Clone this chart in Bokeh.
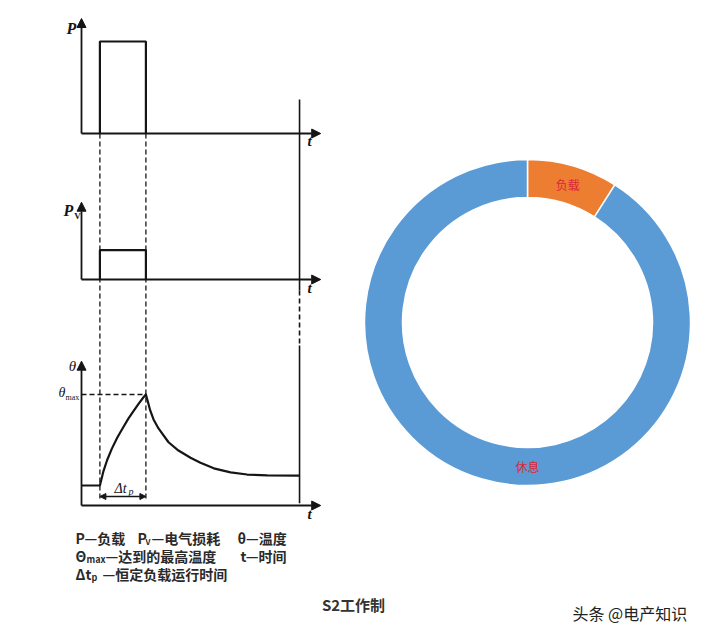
from bokeh.plotting import figure
from bokeh.models import Range1d, Arrow, NormalHead, ColumnDataSource
from bokeh.core.properties import value
from bokeh.embed import file_html
from bokeh.resources import INLINE
import math

W, H = 720, 638

# ---------------- S2 duty-cycle data (arbitrary time units) ----------------
t_on = 2.0          # load switched on
t_off = 7.0         # load switched off (end of Δtp)
t_cycle = 23.7      # end of the observed period
t_axis_end = 26.0   # length of the time axes

p_load = 1.0        # constant load P
pv_loss = 0.32      # electrical losses Pv while loaded

# temperature rise θ over time
theta_t = [0.0, 2.0, 2.39, 2.79, 3.29, 3.88, 4.57, 5.11, 5.65, 6.2, 6.74, 7.0,
           7.23, 7.47, 7.83, 8.37, 9.46, 10.54, 11.85, 12.93, 14.38, 16.2, 18.0, 20.2, 23.7]
theta_v = [18.0, 18.0, 31.0, 41.0, 51.0, 61.0, 71.0, 78.5, 85.0, 91.5, 97.5, 100.0,
           93.0, 85.6, 77.5, 69.4, 57.0, 49.5, 43.0, 38.5, 33.5, 29.8, 27.9, 27.2, 27.0]

# share of the duty cycle
duty_labels = ["负载", "休息"]
duty_share = [9, 91]
duty_colors = ["#ed7d31", "#5b9bd5"]

# ---------------- layout of the schematic ----------------
X0, PX_T = 81.0, 9.2                 # pixel of t=0, pixels per time unit
PANELS = {                            # baseline pixel, pixels per unit, axis height (units)
    "P": (133.0, 92.0, 1.25),
    "Pv": (279.0, 92.0, 0.84),
    "theta": (505.0, 1.11, 130.0),
}
INK = "#151515"


def py(panel, v):
    base, s, _ = PANELS[panel]
    return base - v * s


p = figure(width=W, height=H, x_range=Range1d(0, W), y_range=Range1d(H, 0),
           output_backend="svg", toolbar_location=None, title=None,
           x_axis_location=None, y_axis_location=None, min_border=0,
           outline_line_color=None, background_fill_color="white",
           border_fill_color="white")
p.grid.visible = False

p.extra_x_ranges = {"t": Range1d(-X0 / PX_T, (W - X0) / PX_T)}
p.extra_y_ranges = {name: Range1d(base / s - H / s, base / s)
                    for name, (base, s, _) in PANELS.items()}

# axes with arrow heads
for name, (_, _, top) in PANELS.items():
    for xe, ye in [(0, top), (t_axis_end, 0)]:
        p.add_layout(Arrow(x_start=0, y_start=0, x_end=xe, y_end=ye,
                           x_range_name="t", y_range_name=name,
                           line_color=INK, line_width=1.8,
                           end=NormalHead(size=9, fill_color=INK, line_color=INK, line_width=1)))

# guide lines through the switching instants
for tt in (t_on, t_off):
    p.segment(x0=tt, y0=py("P", 0), x1=tt, y1=py("theta", 4), x_range_name="t",
              line_color=INK, line_width=1.3, line_dash="5 3")

# end of period marker: solid, dashed between the Pv and θ panels, solid again
p.segment(x0=[t_cycle, t_cycle], y0=[py("P", 0.37), 345],
          x1=[t_cycle, t_cycle], y1=[290, py("theta", 2)],
          x_range_name="t", line_color=INK, line_width=1.6)
p.segment(x0=t_cycle, y0=290, x1=t_cycle, y1=345, x_range_name="t",
          line_color=INK, line_width=1.6, line_dash="5 3")

# load P and losses Pv
p.line(x=[t_on, t_on, t_off, t_off], y=[0, p_load, p_load, 0],
       x_range_name="t", y_range_name="P", line_color=INK, line_width=2.2)
p.line(x=[t_on, t_on, t_off, t_off], y=[0, pv_loss, pv_loss, 0],
       x_range_name="t", y_range_name="Pv", line_color=INK, line_width=2.2)

# temperature curve
theta_max = max(theta_v)
t_peak = theta_t[theta_v.index(theta_max)]
p.line(x=theta_t, y=theta_v, x_range_name="t", y_range_name="theta",
       line_color=INK, line_width=2.2, line_join="round")
p.segment(x0=0, y0=theta_max, x1=t_peak, y1=theta_max, x_range_name="t",
          y_range_name="theta", line_color=INK, line_width=1.3, line_dash="5 3")

# Δtp dimension arrow
p.add_layout(Arrow(x_start=t_on, y_start=496, x_end=t_off, y_end=496, x_range_name="t",
                   line_color=INK, line_width=1.4,
                   start=NormalHead(size=6, fill_color=INK, line_color=INK),
                   end=NormalHead(size=6, fill_color=INK, line_color=INK)))


def txt(x, y, s, size, font="Noto Sans CJK SC", style="normal", color=INK,
        align="left", base="middle"):
    p.text(x=[x], y=[y], text=[s], text_font=value(font), text_font_size=f"{size}px",
           text_font_style=style, text_color=color, text_align=align,
           text_baseline=base)


SERIF = "Liberation Serif"
txt(71, 28, "P", 16, SERIF, "bold italic", align="center")
txt(68, 210, "P", 16, SERIF, "bold italic", align="center")
txt(77, 215, "V", 9, SERIF, "bold", align="center")
txt(72, 365, "θ", 15, SERIF, "italic", align="center")
txt(65, 392, "θ", 14, SERIF, "italic", align="right")
txt(65, 397, "max", 8, SERIF, "normal", align="left")
for yy in (140, 287, 513):
    txt(309, yy, "t", 15, SERIF, "bold italic", align="center")
txt(114, 488, "Δt", 14, SERIF, "italic")
txt(128, 491, "p", 10, SERIF, "italic")

# key to the symbols
KEY = "#2a2a2a"
txt(75, 537, "P—负载", 14, style="bold", color=KEY)
txt(137, 537, "P", 14, style="bold", color=KEY)
txt(145, 541, "V", 8, style="bold", color=KEY)
txt(151, 537, "—电气损耗", 14, style="bold", color=KEY)
txt(237, 537, "θ—温度", 14, style="bold", color=KEY)
txt(75, 555, "Θ", 14, style="bold", color=KEY)
txt(86, 559, "max", 9, style="bold", color=KEY)
txt(105, 555, "—达到的最高温度", 14, style="bold", color=KEY)
txt(240, 555, "t—时间", 14, style="bold", color=KEY)
txt(75, 573, "Δt", 14, style="bold", color=KEY)
txt(91, 577, "p", 9, style="bold", color=KEY)
txt(102, 573, "—恒定负载运行时间", 14, style="bold", color=KEY)

txt(353, 604, "S2工作制", 15, style="bold", color="#333333", align="center")
txt(572, 612, "头条 @电产知识", 16, color="#222222")

# ---------------- duty share donut ----------------
CX, CY, R_IN, R_OUT = 527.0, 322.0, 125.0, 163.0
total = float(sum(duty_share))
starts, ends, cum = [], [], 0.0
for v in duty_share:
    a0 = math.pi / 2 - 2 * math.pi * cum / total
    cum += v
    a1 = math.pi / 2 - 2 * math.pi * cum / total
    starts.append(a1)
    ends.append(a0)

src = ColumnDataSource(dict(start=starts, end=ends, color=duty_colors, label=duty_labels))
p.annular_wedge(x=CX, y=CY, inner_radius=R_IN, outer_radius=R_OUT,
                start_angle="start", end_angle="end", fill_color="color",
                line_color="white", line_width=1.5, source=src)

# slice labels: load at its mid angle, rest at the bottom of the ring
label_angles = [(starts[0] + ends[0]) / 2, -math.pi / 2]
r_mid = (R_IN + R_OUT) / 2
for lab, ang in zip(duty_labels, label_angles):
    txt(CX + r_mid * math.cos(ang), CY - r_mid * math.sin(ang), lab, 12,
        color="#d8283a", align="center")

open("out.html", "w").write(file_html(p, INLINE))
